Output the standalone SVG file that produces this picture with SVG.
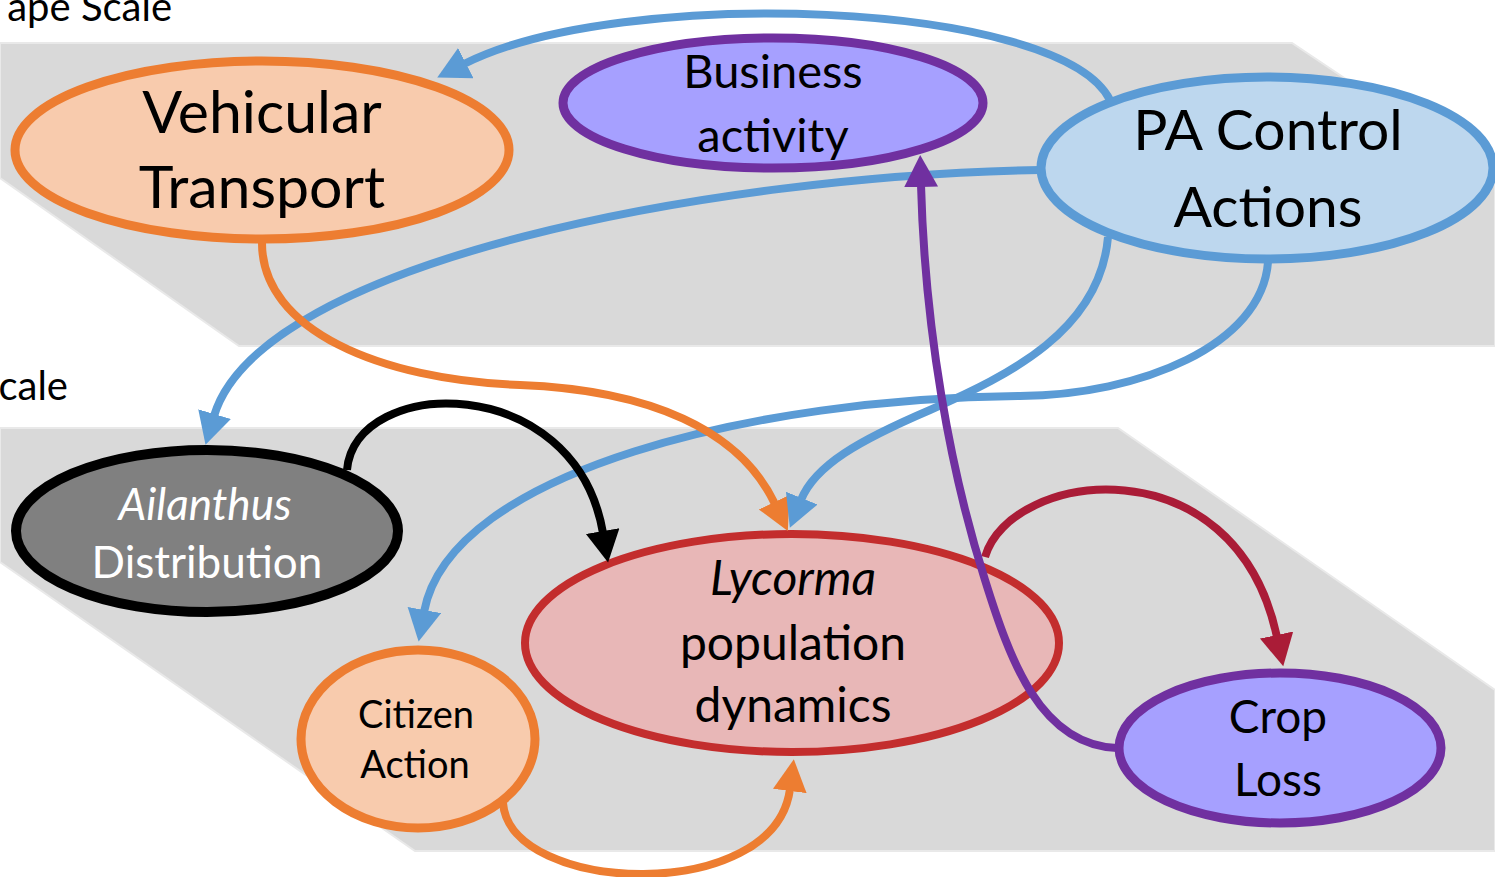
<svg xmlns="http://www.w3.org/2000/svg" width="1495" height="877" viewBox="0 0 1495 877">
<defs>
<style>
.plane{fill:#d9d9d9;stroke:#e9e9e9;stroke-width:2}
.lbl{font-family:Lato,"Open Sans","Liberation Sans",sans-serif;font-size:40px;fill:#000}
.t{font-family:Lato,"Open Sans","Liberation Sans",sans-serif;text-anchor:middle;fill:#000}
.it{font-style:italic}
.c{fill:none;stroke-width:8}
.blue{stroke:#5b9bd5}
.orange{stroke:#ed7d31}
.black{stroke:#000}
.red{stroke:#aa1c37}
.purple{stroke:#7030a0}
</style>
<marker id="ab" markerUnits="userSpaceOnUse" markerWidth="36" markerHeight="36" refX="2" refY="17" orient="auto"><path d="M0,0 L32,17 L0,34 z" fill="#5b9bd5"/></marker>
<marker id="ao" markerUnits="userSpaceOnUse" markerWidth="36" markerHeight="36" refX="2" refY="17" orient="auto"><path d="M0,0 L32,17 L0,34 z" fill="#ed7d31"/></marker>
<marker id="ak" markerUnits="userSpaceOnUse" markerWidth="36" markerHeight="36" refX="2" refY="17" orient="auto"><path d="M0,0 L32,17 L0,34 z" fill="#000"/></marker>
<marker id="ar" markerUnits="userSpaceOnUse" markerWidth="36" markerHeight="36" refX="2" refY="17" orient="auto"><path d="M0,0 L32,17 L0,34 z" fill="#aa1c37"/></marker>
<marker id="ap" markerUnits="userSpaceOnUse" markerWidth="36" markerHeight="36" refX="2" refY="17" orient="auto"><path d="M0,0 L32,17 L0,34 z" fill="#7030a0"/></marker>
</defs>
<rect width="1495" height="877" fill="#fff"/>
<g id="planes">
<polygon class="plane" points="0,43 1292,43 1495,179 1495,346 239,346 0,178"/>
<polygon class="plane" points="0,428 1118,428 1495,690 1495,851 415,851 0,562"/>
</g>
<g id="labels">
<text class="lbl" x="172" y="21" text-anchor="end">ape Scale</text>
<text class="lbl" x="68" y="400" text-anchor="end">cale</text>
</g>
<g id="vehicular">
<ellipse cx="262" cy="150" rx="247" ry="89" fill="#f8cbad" stroke="#ed7d31" stroke-width="9"/>
<text class="t" x="262" y="133" font-size="59">Vehicular</text>
<text class="t" x="262" y="208" font-size="59">Transport</text>
</g>
<g id="business">
<ellipse cx="773" cy="103" rx="210" ry="65" fill="#a6a0ff" stroke="#7030a0" stroke-width="9"/>
<text class="t" x="773" y="88" font-size="47">Business</text>
<text class="t" x="773" y="152" font-size="47">activity</text>
</g>
<g id="pa">
<ellipse cx="1267" cy="168" rx="226" ry="91" fill="#bdd7ee" stroke="#5b9bd5" stroke-width="9"/>
<text class="t" x="1268" y="150" font-size="57">PA Control</text>
<text class="t" x="1268" y="227" font-size="57">Actions</text>
</g>
<g id="ailanthus">
<ellipse cx="207" cy="531" rx="191" ry="81" fill="#808080" stroke="#000" stroke-width="10"/>
<text class="t it" x="205" y="520" font-size="44" style="fill:#fff">Ailanthus</text>
<text class="t" x="207" y="578" font-size="44" style="fill:#fff">Distribution</text>
</g>
<g id="lycorma">
<ellipse cx="792" cy="643" rx="267" ry="109" fill="#e8b7b7" stroke="#c32d2d" stroke-width="8"/>
<text class="t it" x="793" y="595" font-size="48">Lycorma</text>
<text class="t" x="793" y="660" font-size="48">population</text>
<text class="t" x="793" y="722" font-size="48">dynamics</text>
</g>
<g id="citizen">
<ellipse cx="418" cy="739" rx="117" ry="89" fill="#f8cbad" stroke="#ed7d31" stroke-width="9"/>
<text class="t" x="416" y="728" font-size="38">Citizen</text>
<text class="t" x="415" y="778" font-size="38">Action</text>
</g>
<g id="croploss">
<ellipse cx="1280" cy="748" rx="161" ry="75" fill="#a6a0ff" stroke="#7030a0" stroke-width="9"/>
<text class="t" x="1278" y="733" font-size="46">Crop</text>
<text class="t" x="1278" y="796" font-size="46">Loss</text>
</g>
<g id="connectors">
<path class="c blue" d="M1110,100 C1060,0 620,-15 464,64" marker-end="url(#ab)"/>
<path class="c blue" d="M1040,170 C720,175 260,260 214,416" marker-end="url(#ab)"/>
<path class="c blue" d="M1268,262 C1262,345 1140,395 1020,396 C760,398 450,470 424,612" marker-end="url(#ab)"/>
<path class="c orange" d="M262,243 C262,330 380,380 520,385 C650,390 740,430 775,504" marker-end="url(#ao)"/>
<path class="c blue" d="M1108,237 C1100,330 1010,375 930,410 C860,440 815,465 801,500" marker-end="url(#ab)"/>
<path class="c orange" d="M503,803 C510,895 775,905 790,789" marker-end="url(#ao)"/>
<path class="c black" d="M347,470 C355,375 575,370 603,533" marker-end="url(#ak)"/>
<path class="c red" d="M985,557 C1010,470 1235,440 1277,637" marker-end="url(#ar)"/>
<path class="c purple" d="M1117,748 C1040,745 1010,660 985,580 C950,470 925,330 921,185" marker-end="url(#ap)"/>
</g>
</svg>
